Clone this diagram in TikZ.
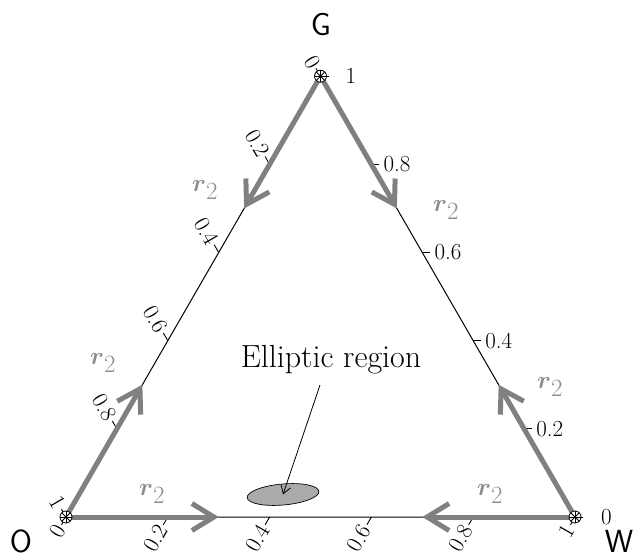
\documentclass[tikz,border=0pt]{standalone}
\usepackage{amsmath}
\usetikzlibrary{arrows.meta,calc,shapes.geometric}
\definecolor{agray}{RGB}{128,128,128}
\definecolor{rgray}{RGB}{140,140,140}
\definecolor{egray}{RGB}{170,170,170}
\begin{document}
\begin{tikzpicture}[x=1pt,y=1pt,
  edge/.style={black, line width=1pt},
  tickl/.style={black, line width=0.9pt},
  ticklab/.style={font=\fontsize{23}{27}\selectfont, inner sep=1pt},
  garrow/.style={agray, line width=5pt, -{Straight Barb[length=22pt,width=27pt]}},
  rlab/.style={text=rgray, font=\fontsize{33}{37}\selectfont, inner sep=0pt},
  vlab/.style={font=\fontsize{32}{36}\selectfont\sffamily, inner sep=0pt},
  vmark/.style={black, line width=0.8pt},
]
\useasboundingbox (0,0) rectangle (637,558);
\coordinate (O) at (66,41);
\coordinate (W) at (575,41);
\coordinate (G) at (320.5,481.8);

% triangle edges
\draw[edge] (O) -- (W) -- (G) -- cycle;

% ticks and labels
\foreach \i/\t in {0/0,1/0.2,2/0.4,3/0.6,4/0.8,5/1} {
  \pgfmathsetmacro\v{\i/5}
  % right edge
  \draw[tickl] ($(W)!\v!(G)$) coordinate (r\i) -- ++(8,0) coordinate (rt\i);
  % left edge
  \draw[tickl] ($(G)!\v!(O)$) coordinate (l\i) -- ++(120:9) coordinate (lt\i);
  \node[ticklab, rotate=-60, anchor=east] (ll\i) at ($(lt\i)+(120:1)$) {\t};
  % bottom edge
  \draw[tickl] ($(O)!\v!(W)$) coordinate (b\i) -- ++(240:9) coordinate (bt\i);
  \node[ticklab, rotate=60, anchor=east] (bl\i) at ($(bt\i)+(240:1)$) {\t};
}
\foreach \i/\t in {1/0.2,2/0.4,3/0.6,4/0.8} {
  \node[ticklab, anchor=west] (rl\i) at ($(rt\i)+(3,0)$) {\t};
}
\node[ticklab, anchor=west] (rl0) at ($(rt0)+(17,0)$) {0};
\node[ticklab, anchor=west] (rl5) at ($(rt5)+(16,0)$) {1};

% gray arrows
\coordinate (a1) at ($(G)!0.3!(O)$);
\coordinate (a2) at ($(G)!0.3!(W)$);
\coordinate (a3) at ($(O)!0.3!(G)$);
\coordinate (a4) at ($(W)!0.3!(G)$);
\coordinate (a5) at ($(O)!0.3!(W)$);
\coordinate (a6) at ($(W)!0.3!(O)$);
\draw[garrow] (G) -- (a1);
\draw[garrow] (G) -- (a2);
\draw[garrow] (O) -- (a3);
\draw[garrow] (W) -- (a4);
\draw[garrow] (O) -- (a5);
\draw[garrow] (W) -- (a6);

% r2 labels
\node[rlab] (r2a) at (205,368) {$\boldsymbol{r}_2$};
\node[rlab] (r2b) at (446,348) {$\boldsymbol{r}_2$};
\node[rlab] (r2c) at (103,195) {$\boldsymbol{r}_2$};
\node[rlab] (r2d) at (550,171) {$\boldsymbol{r}_2$};
\node[rlab] (r2e) at (152,64) {$\boldsymbol{r}_2$};
\node[rlab] (r2f) at (490,64) {$\boldsymbol{r}_2$};

% vertex markers
\foreach \p in {O,W,G} {
  \draw[vmark, fill=white] (\p) circle[radius=6pt];
  \foreach \a in {0,45,90,135} {
    \draw[vmark] ($(\p)+(\a:6)$) -- ($(\p)+(\a+180:6)$);
  }
}

% vertex labels
\node[vlab] (Glab) at (321,533) {G};
\node[vlab] (Olab) at (21,17) {O};
\node[vlab] (Wlab) at (619,17) {W};

% elliptic region
\node[ellipse, draw=black, line width=0.7pt, fill=egray, minimum width=72pt, minimum height=21pt, inner sep=0pt, rotate=5] (ell) at (283,63.5) {};
\node[font=\fontsize{32}{36}\selectfont, inner sep=0pt] (elab) at (331,198) {Elliptic region};
\coordinate (es) at (320,173);
\draw[black, line width=0.8pt, -{Straight Barb[length=8pt,width=10pt]}] (es) -- (ell.center);
\end{tikzpicture}
\end{document}
